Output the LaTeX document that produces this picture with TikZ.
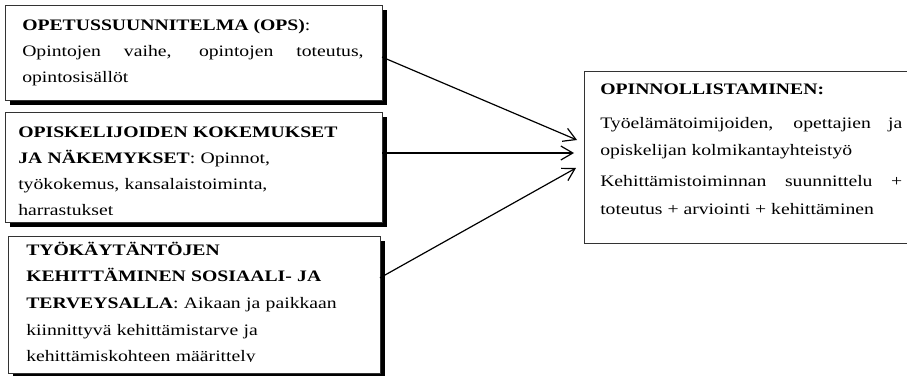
\documentclass[tikz,border=0pt]{standalone}
\usepackage{fontspec}
\setmainfont[FakeStretch=1.23]{Liberation Serif}
\usetikzlibrary{arrows.meta,shadows}
\definecolor{opnInk}{HTML}{000000}
\definecolor{opnFrame}{HTML}{333333}
\tikzset{
  opn frame/.style={draw=opnFrame, line width=0.75pt, fill=white, inner sep=0pt, outer sep=0pt, anchor=north west},
  opn shadow/.style={drop shadow={shadow xshift=3.4pt, shadow yshift=-3.4pt, fill=black, opacity=1}},
  opn text/.style={inner sep=0pt, anchor=base west, text=opnInk, font=\fontsize{12pt}{19.5pt}\selectfont},
  opn arrow/.style={draw=opnInk, line width=0.9pt, -{Straight Barb[length=9pt, width=10.5pt]}},
}

\begin{document}
\begin{tikzpicture}[x=0.75pt, y=-0.75pt]
  \useasboundingbox (0,0) rectangle (907,375);
  % Frames: three source boxes with offset shadow, one target box
  \node[opn frame, opn shadow, minimum width=377*0.75pt, minimum height=95*0.75pt] (ops) at (5,5) {};
  \node[opn frame, opn shadow, minimum width=377*0.75pt, minimum height=110*0.75pt] (kok) at (5,112) {};
  \node[opn frame, opn shadow, minimum width=372*0.75pt, minimum height=137*0.75pt] (tyo) at (8,236) {};
  \node[opn frame, minimum width=330*0.75pt, minimum height=172*0.75pt] (opin) at (584,71) {};

  % Texts (overflowing lines are cut at the inner margin)
  \node[opn text, text width=256pt, align=justify] (opsText) at (22,30)
    {\textbf{OPETUSSUUNNITELMA (OPS)}:\\
     Opintojen vaihe, opintojen toteutus,\linebreak opintosisällöt};
  \begin{scope}
    \clip (kok.north west) rectangle ([yshift=5.5pt]kok.south east);
    \node[opn text, text width=256pt, align=left] (kokText) at (18,137)
      {\textbf{OPISKELIJOIDEN KOKEMUKSET}\\
       \textbf{JA NÄKEMYKSET}: Opinnot,\\
       työkokemus, kansalaistoiminta,\\
       harrastukset};
  \end{scope}
  \begin{scope}
    \clip (tyo.north west) rectangle ([yshift=8.5pt]tyo.south east);
    \node[opn text, text width=256pt, align=left,
          font=\fontsize{12pt}{20pt}\selectfont] (tyoText) at (26,255)
      {\textbf{TYÖKÄYTÄNTÖJEN}\\
       \textbf{KEHITTÄMINEN SOSIAALI- JA}\\
       \textbf{TERVEYSALLA}: Aikaan ja paikkaan\\
       kiinnittyvä kehittämistarve ja\\
       kehittämiskohteen määrittely};
  \end{scope}
  \node[opn text, text width=226.5pt, align=justify,
        font=\fontsize{12pt}{20.5pt}\selectfont] (opinText) at (600,94)
    {\textbf{OPINNOLLISTAMINEN:}\par\vspace{5pt}
     Työelämätoimijoiden, opettajien ja\linebreak opiskelijan kolmikantayhteistyö\par\vspace{3pt}
     Kehittämistoiminnan suunnittelu +\linebreak toteutus + arviointi + kehittäminen};

  % Connectors
  \draw[opn arrow] ([yshift=-3.4pt]ops.east) -- ([xshift=-5.25pt, yshift=12.75pt]opin.west);
  \draw[opn arrow] ([yshift=10.5pt]kok.east) -- ([xshift=-7.5pt, yshift=3pt]opin.west);
  \draw[opn arrow] ([yshift=20pt]tyo.east) -- ([xshift=-6pt, yshift=-8.25pt]opin.west);
\end{tikzpicture}
\end{document}
